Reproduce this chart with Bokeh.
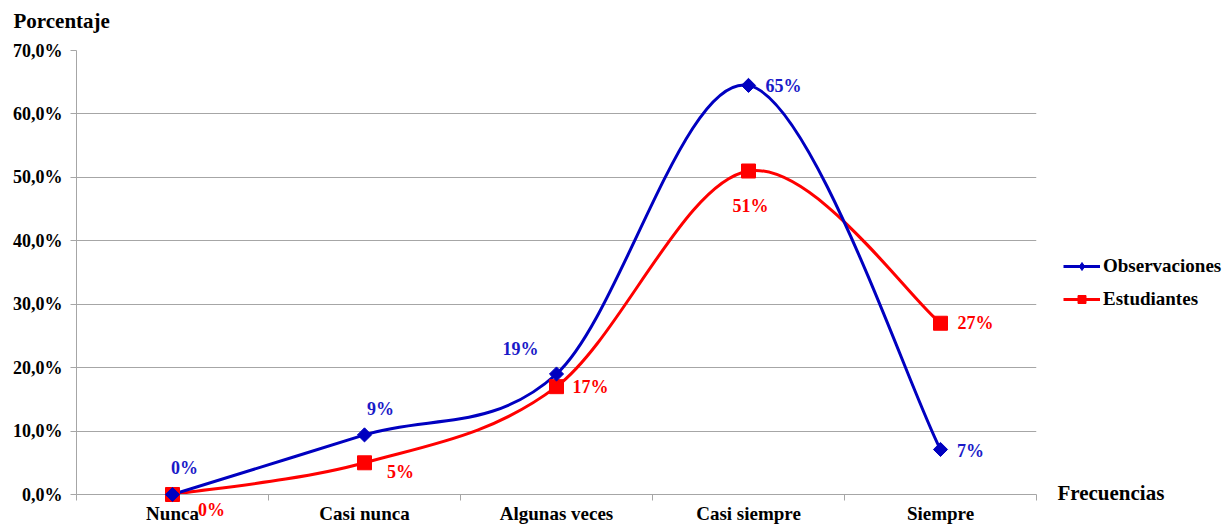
import math
from bokeh.plotting import figure
from bokeh.models import (Range1d, FixedTicker, Legend, LegendItem, ColumnDataSource)
from bokeh.core.properties import value
from bokeh.embed import file_html
from bokeh.resources import INLINE

# ---------------- data ----------------
categories = ["Nunca", "Casi nunca", "Algunas veces", "Casi siempre", "Siempre"]
observaciones = [0.0, 9.4, 19.0, 64.5, 7.1]
estudiantes = [0.0, 5.0, 17.0, 51.0, 27.0]
y_ticks = [0, 10, 20, 30, 40, 50, 60, 70]
y_tick_labels = ["0,0%", "10,0%", "20,0%", "30,0%", "40,0%", "50,0%", "60,0%", "70,0%"]

# data-label offsets (screen px, +x right, +y down)
obs_dx = [12, 16, -36, 35, 30]
obs_dy = [-27, -26, -25, 1, 2]
est_dx = [39, 36, 34, 2, 35]
est_dy = [15, 9, 0, 35, 0]

FONT = "Liberation Serif"
BLUE = "#0000c0"
BLUE_TXT = "#1a1ac8"
RED = "#ff0000"
GRID = "#a6a6a6"

xs = [i + 0.5 for i in range(len(categories))]


def smooth(xv, yv):
    n = len(xv)
    out = {k: [] for k in ("x0", "y0", "x1", "y1", "cx0", "cy0", "cx1", "cy1")}
    for i in range(n - 1):
        a, b = max(i - 1, 0), min(i + 2, n - 1)
        out["x0"].append(xv[i]); out["y0"].append(yv[i])
        out["x1"].append(xv[i + 1]); out["y1"].append(yv[i + 1])
        out["cx0"].append(xv[i] + (xv[i + 1] - xv[a]) / 6)
        out["cy0"].append(yv[i] + (yv[i + 1] - yv[a]) / 6)
        out["cx1"].append(xv[i + 1] - (xv[b] - xv[i]) / 6)
        out["cy1"].append(yv[i + 1] - (yv[b] - yv[i]) / 6)
    return out


p = figure(frame_width=960, frame_height=444, width=1226, height=524,
           output_backend="svg", toolbar_location=None,
           x_range=Range1d(0, 5), y_range=Range1d(0, 70),
           min_border_left=76, min_border_right=190, min_border_top=50,
           min_border_bottom=30)
p.outline_line_color = None
p.background_fill_color = "white"
p.border_fill_color = "white"

# grid
p.xgrid.grid_line_color = None
p.ygrid.grid_line_color = GRID
p.ygrid.grid_line_width = 1
p.ygrid.ticker = FixedTicker(ticks=y_ticks)

# y axis
p.yaxis.ticker = FixedTicker(ticks=y_ticks, minor_ticks=[])
p.yaxis.major_label_overrides = {t: l for t, l in zip(y_ticks, y_tick_labels)}
p.yaxis.axis_line_color = GRID
p.yaxis.major_tick_line_color = GRID
p.yaxis.major_tick_out = 6
p.yaxis.major_tick_in = 0
p.yaxis.minor_tick_line_color = None
p.yaxis.major_label_standoff = 8
p.yaxis.major_label_text_font = FONT
p.yaxis.major_label_text_font_style = "bold"
p.yaxis.major_label_text_font_size = "18px"
p.yaxis.major_label_text_color = "black"

# x axis
p.xaxis.ticker = FixedTicker(ticks=xs, minor_ticks=[0, 1, 2, 3, 4, 5])
p.xaxis.major_label_overrides = {x: c for x, c in zip(xs, categories)}
p.xaxis.axis_line_color = GRID
p.xaxis.major_tick_line_color = None
p.xaxis.major_tick_out = 0
p.xaxis.major_tick_in = 0
p.xaxis.minor_tick_line_color = GRID
p.xaxis.minor_tick_out = 6
p.xaxis.minor_tick_in = 0
p.xaxis.major_label_standoff = 2
p.xaxis.major_label_text_font = FONT
p.xaxis.major_label_text_font_style = "bold"
p.xaxis.major_label_text_font_size = "19px"
p.xaxis.major_label_text_color = "black"

# smoothed lines
ob = smooth(xs, observaciones)
es = smooth(xs, estudiantes)
p.bezier(source=ColumnDataSource(es), x0="x0", y0="y0", x1="x1", y1="y1",
         cx0="cx0", cy0="cy0", cx1="cx1", cy1="cy1", line_color=RED, line_width=3)
p.bezier(source=ColumnDataSource(ob), x0="x0", y0="y0", x1="x1", y1="y1",
         cx0="cx0", cy0="cy0", cx1="cx1", cy1="cy1", line_color=BLUE, line_width=3)

# markers
src_o = ColumnDataSource(dict(x=xs, y=observaciones,
                              t=[f"{int(v + 0.5)}%" for v in observaciones],
                              dx=obs_dx, dy=obs_dy))
src_e = ColumnDataSource(dict(x=xs, y=estudiantes,
                              t=[f"{int(v + 0.5)}%" for v in estudiantes],
                              dx=est_dx, dy=est_dy))
p.scatter("x", "y", source=src_e, marker="square", size=14,
          fill_color=RED, line_color=RED, level="overlay")
p.scatter("x", "y", source=src_o, marker="square", angle=math.pi / 4, size=10,
          fill_color=BLUE, line_color=BLUE, level="overlay")

# data labels (overlay level so they are not clipped to the frame)
for src, col in ((src_o, BLUE_TXT), (src_e, RED)):
    p.text(x="x", y="y", text="t", source=src, x_offset="dx", y_offset="dy",
           text_align="center", text_baseline="middle",
           text_font=value(FONT), text_font_style="bold",
           text_font_size="18px", text_color=col, level="overlay")

# axis titles
p.text(x=[-0.328], y=[74.7], text=["Porcentaje"], text_align="left",
       text_baseline="middle", text_font=value(FONT), text_font_style="bold",
       text_font_size="21px", text_color="black", level="overlay")
p.text(x=[5.109], y=[0.16], text=["Frecuencias"], text_align="left",
       text_baseline="middle", text_font=value(FONT), text_font_style="bold",
       text_font_size="21px", text_color="black", level="overlay")

# legend (proxy renderers placed far outside the visible ranges)
off_x, off_y = [-100, -99], [-100, -100]
l_o = p.line(off_x, off_y, line_color=BLUE, line_width=3)
s_o = p.scatter(off_x[:1], off_y[:1], marker="diamond", size=13,
                fill_color=BLUE, line_color=BLUE)
l_e = p.line(off_x, off_y, line_color=RED, line_width=3)
s_e = p.scatter(off_x[:1], off_y[:1], marker="square", size=12,
                fill_color=RED, line_color=RED)
legend = Legend(items=[LegendItem(label="Observaciones", renderers=[l_o, s_o]),
                       LegendItem(label="Estudiantes", renderers=[l_e, s_e])],
                location=(27, 184), padding=0, margin=0, spacing=11,
                glyph_width=37, glyph_height=20, label_standoff=3,
                border_line_color=None, background_fill_alpha=0,
                label_text_font=FONT, label_text_font_style="bold",
                label_text_font_size="19px", label_text_color="black")
p.add_layout(legend, "right")

open("out.html", "w").write(file_html(p, INLINE))
